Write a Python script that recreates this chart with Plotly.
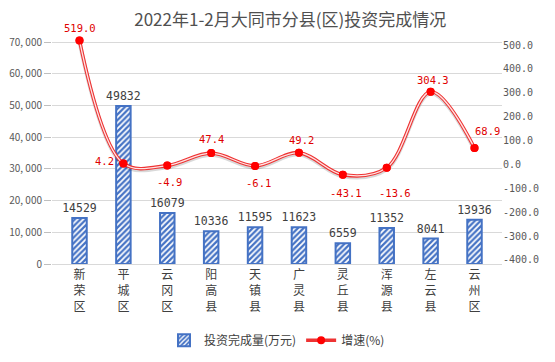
import plotly.graph_objects as go

categories = ["新荣区", "平城区", "云冈区", "阳高县", "天镇县", "广灵县", "灵丘县", "浑源县", "左云县", "云州区"]
investment = [14529, 49832, 16079, 10336, 11595, 11623, 6559, 11352, 8041, 13936]
growth = [519.0, 4.2, -4.9, 47.4, -6.1, 49.2, -43.1, -13.6, 304.3, 68.9]
left_ticks = [0, 10000, 20000, 30000, 40000, 50000, 60000, 70000]
right_ticks = [-400, -300, -200, -100, 0, 100, 200, 300, 400, 500]

# label offsets (pixels) for growth labels
label_dx = [0, -19, 2, 0, 3, 3, 3, 8, 2, 13]
label_dy = [-13, -2, 16, -14, 17, -13, 18, 25, -12, -17]

xlabels = ["<br>".join(list(c)) for c in categories]
FONT = "Noto Sans CJK SC"
BLUE = "#4472C4"
RED = "#FF0000"

fig = go.Figure()
fig.add_trace(go.Bar(
    x=xlabels, y=investment, name="投资完成量(万元)",
    marker=dict(color="white", line=dict(color=BLUE, width=2),
                pattern=dict(shape="/", fgcolor="white", bgcolor=BLUE, size=4, solidity=0.45,
                             fillmode="replace")),
    width=0.33,
    text=[str(v) for v in investment], textposition="outside", constraintext="none",
    textfont=dict(size=11.5, color="#404040", family="DejaVu Sans Mono"),
    cliponaxis=False,
))
# shadow of line
fig.add_trace(go.Scatter(
    x=xlabels, y=[g - 7 for g in growth], yaxis="y2", mode="lines",
    line=dict(color="rgba(0,0,0,0.15)", width=4, shape="spline", smoothing=1),
    hoverinfo="skip", showlegend=False, cliponaxis=False,
))
fig.add_trace(go.Scatter(
    x=xlabels, y=growth, yaxis="y2", mode="lines+markers", name="增速(%)",
    line=dict(color="#EE3333", width=3.5, shape="spline", smoothing=1),
    marker=dict(color=RED, size=8),
    legendgroup="g", cliponaxis=False,
))
fig.add_trace(go.Scatter(
    x=xlabels, y=growth, yaxis="y2", mode="lines",
    line=dict(color="#FFE4E4", width=1.3, shape="spline", smoothing=1),
    hoverinfo="skip", showlegend=False, legendgroup="g", cliponaxis=False,
))
fig.add_trace(go.Scatter(
    x=xlabels, y=growth, yaxis="y2", mode="markers",
    marker=dict(color=RED, size=8),
    hoverinfo="skip", showlegend=False, legendgroup="g", cliponaxis=False,
))

for xl, g, dx, dy in zip(xlabels, growth, label_dx, label_dy):
    fig.add_annotation(
        x=xl, y=g, yref="y2", text=f"{g:.1f}", showarrow=False,
        xshift=dx, yshift=-dy,
        font=dict(size=10.5, color="#E00000", family="DejaVu Sans Mono"),
    )

fig.update_layout(
    width=555, height=362,
    margin=dict(l=52, r=53, t=30, b=98),
    paper_bgcolor="white", plot_bgcolor="white",
    title=dict(text="2022年1-2月大同市分县(区)投资完成情况", x=0.523, xanchor="center",
               y=0.945, yanchor="middle", font=dict(size=17, color="#505050", family=FONT)),
    font=dict(family=FONT, color="#595959"),
    showlegend=True,
    legend=dict(orientation="h", x=0.5, xanchor="center", yref="container", y=0.06, yanchor="middle",
                font=dict(size=12, color="#404040", family=FONT), itemwidth=30,
                traceorder="normal"),
    bargap=0.5,
    xaxis=dict(showline=True, linecolor="#D9D9D9", linewidth=1, ticks="", automargin=False,
               tickfont=dict(size=12, color="#404040", family=FONT), fixedrange=True),
    yaxis=dict(range=[0, 73784], tickvals=left_ticks, automargin=False,
               ticktext=[f"{v:,}".replace(",", ", ") for v in left_ticks],
               showgrid=True, gridcolor="#D9D9D9", gridwidth=1, zeroline=False,
               ticks="outside", ticklen=7, tickcolor="#BFBFBF",
               tickfont=dict(size=10, color="#595959", family=FONT)),
    yaxis2=dict(range=[-417, 563], tickvals=right_ticks, automargin=False,
                ticktext=[f"{v:.1f}" for v in right_ticks],
                overlaying="y", side="right", showgrid=False, zeroline=False,
                ticks="", tickfont=dict(size=10, color="#595959", family="DejaVu Sans Mono")),
)

fig.write_html("out.html", post_script="document.body.style.margin='0';",
               config={"displayModeBar": False})
